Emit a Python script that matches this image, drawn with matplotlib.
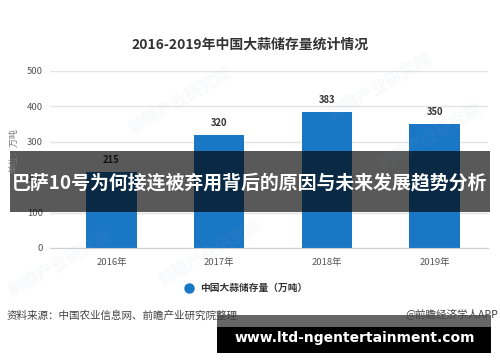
import matplotlib

matplotlib.use("Agg")
import matplotlib.pyplot as plt
from matplotlib.patches import Rectangle

plt.rcParams["font.family"] = ["Noto Sans CJK SC", "DejaVu Sans"]

# data
years = ["2016年", "2017年", "2018年", "2019年"]
storage = [215, 320, 383, 350]
yticks = [0, 100, 200, 300, 400, 500]

title = "2016-2019年中国大蒜储存量统计情况"
series_name = "中国大蒜储存量（万吨）"
unit_label = "单位：万吨"
source = "资料来源：中国农业信息网、前瞻产业研究院整理"
credit = "@前瞻经济学人APP"
banner = "巴萨10号为何接连被弃用背后的原因与未来发展趋势分析"
site = "www.ltd-ngentertainment.com"

BLUE = "#1a77c6"

fig = plt.figure(figsize=(5.0, 3.62), dpi=100)
ax = fig.add_axes([0.10, 0.315, 0.876, 0.489])

x = list(range(len(years)))
ax.bar(x, storage, width=0.47, color=BLUE, zorder=2)
for xi, v in zip(x, storage):
    ax.annotate(str(v), (xi, v), xytext=(0, 5), textcoords="offset points",
                ha="center", va="bottom", fontsize=6.8, fontweight="bold", color="#333333")

ax.set_xlim(-0.571, 3.496)
ax.set_ylim(0, 500)
ax.set_yticks(yticks)
ax.set_xticks(x)
ax.set_xticklabels(years)
ax.tick_params(axis="both", length=0, labelsize=6.8, colors="#555555")
ax.tick_params(axis="y", pad=5)
ax.tick_params(axis="x", pad=7)
ax.grid(axis="y", color="#e3e3e3", lw=1.0, zorder=0)
for s in ["top", "right", "left"]:
    ax.spines[s].set_visible(False)
ax.spines["bottom"].set_color("#cfcfcf")

fig.text(0.5, 0.876, title, ha="center", va="center", fontsize=10,
         fontweight="bold", color="#333333")
fig.text(0.028, 0.583, unit_label, rotation=90, ha="center", va="center",
         fontsize=6.5, color="#777777")

# legend
fig.add_artist(plt.Line2D([189 / 500], [1 - 288 / 362], marker="o", markersize=6.5,
                          color=BLUE, linestyle="none"))
fig.text(200 / 500, 1 - 288 / 362, series_name, ha="left", va="center",
         fontsize=7, fontweight="bold", color="#333333")

fig.text(7 / 500, 1 - 316 / 362, source, ha="left", va="center", fontsize=7.6, color="#444444")
fig.text(498 / 500, 1 - 314 / 362, credit, ha="right", va="center", fontsize=7.6, color="#444444")

# faint watermarks
for wx, wy in [(0.36, 0.72), (0.76, 0.76), (0.12, 0.27), (0.42, 0.30), (0.86, 0.62)]:
    fig.text(wx, wy, "前瞻产业研究院", rotation=30, ha="center", va="center",
             fontsize=12, fontweight="bold", color="#9aa7b5", alpha=0.07)

# overlay banner across the chart
fig.add_artist(Rectangle((10 / 500, 1 - 212 / 362), 480 / 500, 61 / 362,
                         transform=fig.transFigure, facecolor="black", alpha=0.65,
                         edgecolor="none"))
fig.text(0.5, 1 - 183 / 362, banner, ha="center", va="center", fontsize=13.6,
         fontweight="bold", color="white")

# site strip at bottom right
fig.add_artist(Rectangle((217 / 500, 1 - 327 / 362), 274 / 500, 12 / 362,
                         transform=fig.transFigure, facecolor="black", alpha=0.6,
                         edgecolor="none"))
fig.add_artist(Rectangle((217 / 500, 1 - 353 / 362), 274 / 500, 26 / 362,
                         transform=fig.transFigure, facecolor="black", edgecolor="none"))
fig.text(355 / 500, 1 - 338 / 362, site, ha="center", va="center", fontsize=10,
         fontweight="bold", color="white", family="DejaVu Sans")

fig.savefig("out.png", dpi=100)
